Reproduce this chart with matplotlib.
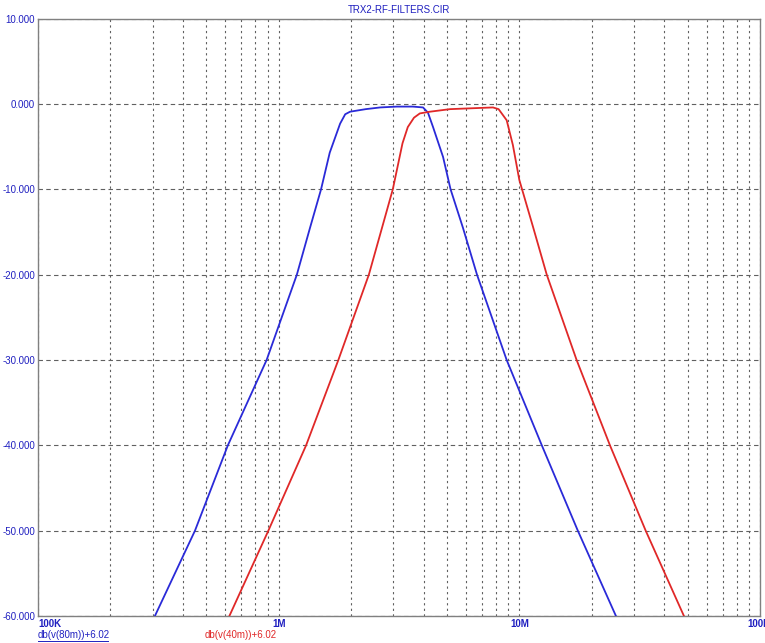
import matplotlib
matplotlib.use("Agg")
import matplotlib.pyplot as plt
import numpy as np
from matplotlib.lines import Line2D
from matplotlib.ticker import LogLocator, NullFormatter

plt.rcParams["font.family"] = ["Liberation Sans", "DejaVu Sans"]

# 80m filter response (Hz, dB)
f_80m = [3.06e5, 4.49e5, 6.15e5, 8.91e5, 1.19e6, 1.35e6, 1.50e6, 1.63e6, 1.80e6,
         1.89e6, 1.98e6, 2.30e6, 2.64e6, 3.10e6, 3.61e6, 3.98e6, 4.17e6, 4.38e6,
         4.82e6, 5.18e6, 5.83e6, 6.67e6, 8.86e6, 1.24e7, 1.75e7, 2.52e7]
db_80m = [-60, -50, -40, -30, -20, -14.5, -10, -5.7, -2.3,
          -1.2, -0.9, -0.6, -0.4, -0.3, -0.3, -0.4, -1.0, -2.7,
          -6.2, -10, -14.5, -20, -30, -40, -50, -60]

# 40m filter response (Hz, dB)
f_40m = [6.24e5, 9.06e5, 1.30e6, 1.77e6, 2.37e6, 2.98e6, 3.27e6, 3.44e6, 3.65e6,
         3.86e6, 4.25e6, 5.15e6, 6.30e6, 7.77e6, 8.20e6, 8.86e6, 9.40e6, 1.00e7,
         1.14e7, 1.30e7, 1.73e7, 2.38e7, 3.35e7, 4.83e7]
db_40m = [-60, -50, -40, -30, -20, -10, -4.6, -2.7, -1.6,
          -1.1, -0.9, -0.6, -0.5, -0.4, -0.6, -1.9, -4.8, -8.9,
          -14.4, -20, -30, -40, -50, -60]

y_ticks = [10, 0, -10, -20, -30, -40, -50, -60]
x_ticks = [1e5, 1e6, 1e7, 1e8]
x_labels = ["100K", "1M", "10M", "100M"]

W, H = 765, 643
fig = plt.figure(figsize=(W / 100, H / 100), dpi=100)
ax = fig.add_axes([38 / W, 1 - 616 / H, (760 - 38) / W, (616 - 18.7) / H])

grid_col = "#606060"
ax.plot(f_80m, db_80m, color="#2a2ad8", lw=1.3, zorder=3)
ax.plot(f_40m, db_40m, color="#e02828", lw=1.3, zorder=3)

ax.set_xscale("log")
ax.set_xlim(1e5, 1e8)
ax.set_ylim(-60, 10)

ax.set_yticks(y_ticks)
ax.set_yticklabels(["%.3f" % v for v in y_ticks])
ax.set_xticks(x_ticks)
ax.set_xticklabels(x_labels)
ax.xaxis.set_minor_locator(LogLocator(base=10, subs=np.arange(2, 10)))
ax.xaxis.set_minor_formatter(NullFormatter())

ax.tick_params(axis="both", which="both", length=0, labelsize=7, labelcolor="#2020c0", pad=2)
for lbl in ax.get_xticklabels():
    lbl.set_fontweight("bold")
ax.get_xticklabels()[0].set_ha("left")

ax.grid(True, axis="y", which="major", color=grid_col, ls=(0, (4, 3)), lw=0.8)
ax.grid(True, axis="x", which="both", color=grid_col, ls=(0, (2, 3)), lw=0.8)

for s in ax.spines.values():
    s.set_color("#808080")
    s.set_linewidth(1.0)

fig.text(399 / W, 1 - 10 / H, "TRX2-RF-FILTERS.CIR", color="#2020c0", fontsize=7,
         ha="center", va="center")
fig.text(38 / W, 1 - 635 / H, "db(v(80m))+6.02", color="#2020c0", fontsize=7,
         ha="left", va="center")
fig.text(205 / W, 1 - 635 / H, "db(v(40m))+6.02", color="#e02828", fontsize=7,
         ha="left", va="center")
# underline under the active trace name
fig.add_artist(Line2D([38 / W, 108 / W], [1 - 641 / H, 1 - 641 / H],
                      color="#2020c0", lw=0.7))

fig.savefig("out.png", dpi=100)
